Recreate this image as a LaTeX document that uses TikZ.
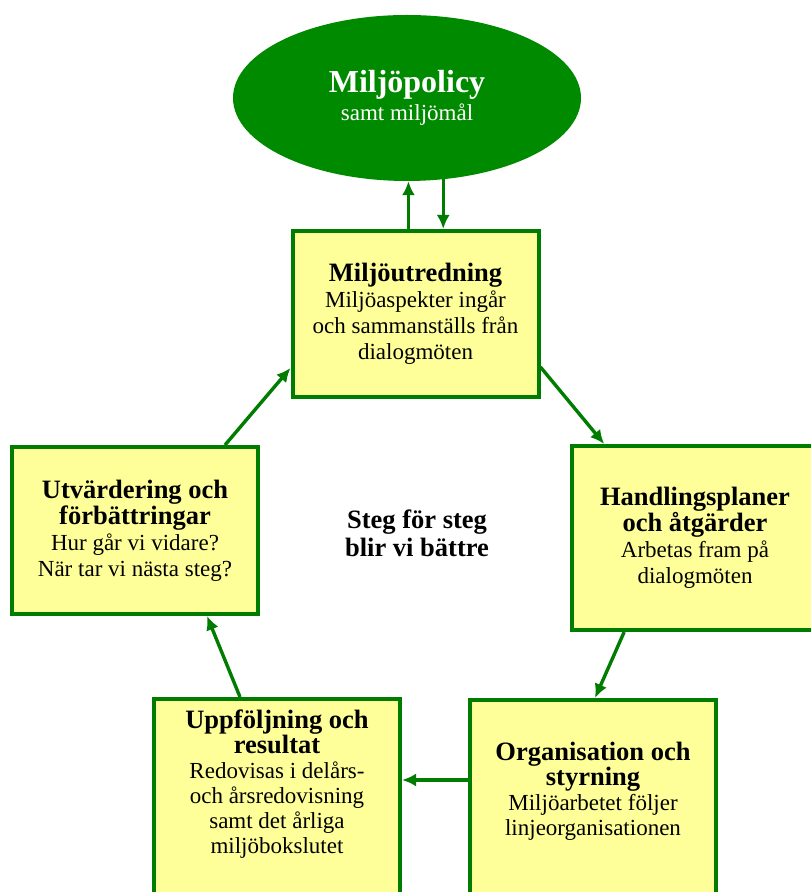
\documentclass[tikz,border=0pt]{standalone}
\usepackage{fontspec}
\setmainfont{Liberation Serif}
\usepackage{tikz}
\usetikzlibrary{shapes.geometric,arrows.meta,positioning,calc}
\usepackage{xcolor}
\definecolor{LeafGreen}{HTML}{008A00}
\definecolor{EdgeGreen}{HTML}{007D00}
\definecolor{NoteYellow}{HTML}{FFFF99}

\newcommand{\boxtitle}[1]{{\fontsize{26.5}{28}\selectfont\bfseries #1}}

\begin{document}
\begin{tikzpicture}[x=1pt, y=1pt,
    policy/.style={ellipse, fill=LeafGreen, draw=none, minimum width=348pt, minimum height=166pt, text=white, align=center, inner sep=0pt},
    stepbox/.style={rectangle, draw=EdgeGreen, fill=NoteYellow, line width=4pt, minimum width=246pt, align=center, inner sep=0pt, font=\fontsize{23}{26}\selectfont},
    boxtext/.style={align=center, inner sep=0pt, font=\fontsize{23}{25}\selectfont},
    arr/.style={-{Latex[length=14pt,width=13pt]}, draw=EdgeGreen, line width=3.4pt}
  ]
    \useasboundingbox (0,0) rectangle (811,892);
    \clip (0,0) rectangle (811,892);

    \node[policy] (pol) at (407, 794) {{\fontsize{32}{34}\selectfont\bfseries Miljöpolicy}\\[3pt]{\fontsize{23}{26}\selectfont samt miljömål}};

    \node[stepbox, minimum height=166pt] (utr) at (415.5, 578) {\boxtitle{Miljöutredning}\\Miljöaspekter ingår\\och sammanställs från\\dialogmöten};
    \node[stepbox, minimum height=184pt] (hand) at (695, 354) {\boxtitle{Handlingsplaner}\\\boxtitle{och åtgärder}\\Arbetas fram på\\dialogmöten};
    \node[stepbox, minimum height=167pt] (utv) at (135, 361.5) {\boxtitle{Utvärdering och}\\\boxtitle{förbättringar}\\Hur går vi vidare?\\När tar vi nästa steg?};

    % bottom boxes run past the lower edge
    \node[stepbox, minimum height=260pt, anchor=north west] (org) at (468, 194) {};
    \node[stepbox, minimum height=260pt, anchor=north west] (upp) at (152, 195) {};
    \node[boxtext, anchor=north] (orgtxt) at ([yshift=-44pt]org.north) {\boxtitle{Organisation och}\\\boxtitle{styrning}\\Miljöarbetet följer\\linjeorganisationen};
    \node[boxtext, anchor=north] (upptxt) at ([yshift=-13pt]upp.north) {\boxtitle{Uppföljning och}\\\boxtitle{resultat}\\Redovisas i delårs-\\och årsredovisning\\samt det årliga\\miljöbokslutet};

    \node[align=center, font=\fontsize{26.5}{28}\selectfont\bfseries] (mid) at (417, 359) {Steg för steg\\blir vi bättre};

    \draw[arr] (utr.north -| pol.-89) -- (pol.-89);
    \draw[arr] (pol.-66) -- (pol.-66 |- utr.north);
    \draw[arr] (utr.-23) -- (hand.134);
    \draw[arr] (hand.-127) -- ([xshift=2pt]org.north);
    \draw[arr] ([yshift=-82pt]org.north west) -- ([yshift=-82pt]org.north west -| upp.east);
    \draw[arr] ([xshift=88pt]upp.north west) -- ([xshift=72pt]utv.south);
    \draw[arr] ([xshift=90pt]utv.north) -- ([yshift=-54pt]utr.west);
  \end{tikzpicture}
\end{document}
